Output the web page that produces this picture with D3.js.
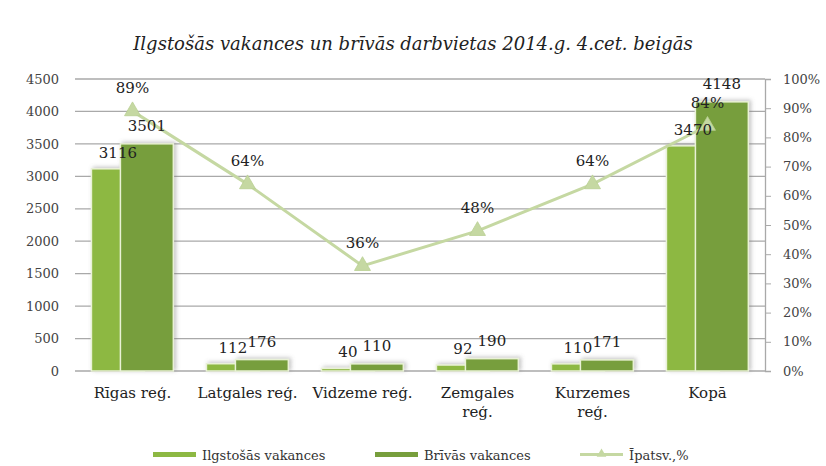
<!DOCTYPE html>
<html>
<head>
<meta charset="utf-8">
<script src="https://cdn.jsdelivr.net/npm/d3@7"></script>
<style>
  html, body { margin: 0; padding: 0; background: #fff; }
  svg { display: block; }
  svg text { font-family: "DejaVu Serif", "Liberation Serif", serif !important; }
</style>
</head>
<body>
<script>
const categories = ["Rīgas reģ.", "Latgales reģ.", "Vidzeme reģ.", "Zemgales\nreģ.", "Kurzemes\nreģ.", "Kopā"];
const ilgstosas = [3116, 112, 40, 92, 110, 3470];
const brivas = [3501, 176, 110, 190, 171, 4148];
const ipatsv = [0.89, 0.64, 0.36, 0.48, 0.64, 0.84];
const leftTicks = [0, 500, 1000, 1500, 2000, 2500, 3000, 3500, 4000, 4500];
const rightTicks = [0, 0.1, 0.2, 0.3, 0.4, 0.5, 0.6, 0.7, 0.8, 0.9, 1.0];
const seriesNames = ["Ilgstošās vakances", "Brīvās vakances", "Īpatsv.,%"];
const title = "Ilgstošās vakances un brīvās darbvietas 2014.g. 4.cet. beigās";

const W = 826, H = 466;
const m = { left: 75, right: 61, top: 79, bottom: 95 };
const c1 = "#8db843", c2 = "#779e3c", cLine = "#c5d8a2";

const svg = d3.select("body").append("svg").attr("width", W).attr("height", H);
const defs = svg.append("defs");
const f = defs.append("filter").attr("id", "sh").attr("x", "-30%").attr("y", "-30%").attr("width", "160%").attr("height", "160%");
f.append("feDropShadow").attr("dx", 2).attr("dy", -1).attr("stdDeviation", 2).attr("flood-color", "#777").attr("flood-opacity", 0.45);

const x = d3.scaleBand().domain(categories).range([m.left, W - m.right]).paddingInner(0).paddingOuter(0);
const y = d3.scaleLinear().domain([0, 4500]).range([H - m.bottom, m.top]);
const y2 = d3.scaleLinear().domain([0, 1]).range([H - m.bottom, m.top]);
const bw = x.bandwidth();
const barW = bw * 0.46;
const off1 = -bw * 0.357, off2 = -bw * 0.105;
const cx = d => x(d) + bw / 2;

// title
svg.append("text").attr("x", W / 2).attr("y", 50).attr("text-anchor", "middle")
  .attr("font-style", "italic").attr("font-size", 18).attr("fill", "#222").text(title);

// gridlines
svg.append("g").selectAll("line").data(leftTicks).join("line")
  .attr("x1", m.left).attr("x2", W - m.right)
  .attr("y1", d => y(d)).attr("y2", d => y(d))
  .attr("stroke", "#a9a9a9").attr("stroke-width", 1.3);

// left axis labels
const gl = svg.append("g").attr("transform", `translate(${m.left - 16},0)`)
  .call(d3.axisLeft(y).tickValues(leftTicks).tickFormat(d3.format("d")).tickSize(0).tickPadding(0));
gl.select(".domain").remove();
gl.selectAll("text").attr("font-size", 13).attr("fill", "#444");

// right axis
const gr = svg.append("g").attr("transform", `translate(${W - m.right},0)`)
  .call(d3.axisRight(y2).tickValues(rightTicks).tickSize(6).tickPadding(12).tickFormat(d3.format(".0%")));
gr.select(".domain").attr("stroke", "#a9a9a9").attr("stroke-width", 1.3);
gr.selectAll(".tick line").attr("stroke", "#a9a9a9");
gr.selectAll("text").attr("font-size", 13).attr("fill", "#444").attr("text-anchor", "start");

// bars
const bars = svg.append("g").attr("filter", "url(#sh)");
bars.selectAll("rect.b1").data(categories).join("rect").attr("class", "b1")
  .attr("x", d => cx(d) + off1).attr("width", barW)
  .attr("y", (d, i) => y(ilgstosas[i])).attr("height", (d, i) => y(0) - y(ilgstosas[i]))
  .attr("fill", c1).attr("stroke", "#e9f1d6").attr("stroke-width", 1.5);
bars.selectAll("rect.b2").data(categories).join("rect").attr("class", "b2")
  .attr("x", d => cx(d) + off2).attr("width", barW)
  .attr("y", (d, i) => y(brivas[i])).attr("height", (d, i) => y(0) - y(brivas[i]))
  .attr("fill", c2).attr("stroke", "#e9f1d6").attr("stroke-width", 1.5);

// line
const line = d3.line().x(d => cx(d.c)).y(d => y2(d.v));
const pts = categories.map((c, i) => ({ c, v: ipatsv[i] }));
svg.append("path").datum(pts).attr("d", line).attr("fill", "none")
  .attr("stroke", cLine).attr("stroke-width", 3);
const tri = d3.symbol().type(d3.symbolTriangle).size(110);
svg.append("g").selectAll("path").data(pts).join("path")
  .attr("d", tri).attr("transform", d => `translate(${cx(d.c)},${y2(d.v)})`)
  .attr("fill", cLine).attr("stroke", "#b9cf92").attr("stroke-width", 0.8);

// data labels
const lab = svg.append("g").attr("font-size", 15).attr("fill", "#222").attr("text-anchor", "middle");
lab.selectAll("text.l1").data(categories).join("text").attr("class", "l1")
  .attr("x", d => cx(d) + off1 + barW / 2).attr("y", (d, i) => y(ilgstosas[i]) - 11)
  .text((d, i) => ilgstosas[i]);
lab.selectAll("text.l2").data(categories).join("text").attr("class", "l2")
  .attr("x", d => cx(d) + off2 + barW / 2).attr("y", (d, i) => y(brivas[i]) - 13)
  .text((d, i) => brivas[i]);
lab.selectAll("text.lp").data(pts).join("text").attr("class", "lp")
  .attr("x", d => cx(d.c)).attr("y", d => y2(d.v) - 18)
  .text(d => d3.format(".0%")(d.v));

// x labels
const xl = svg.append("g").attr("font-size", 15).attr("fill", "#222").attr("text-anchor", "middle");
categories.forEach(c => {
  const t = xl.append("text").attr("x", cx(c)).attr("y", H - m.bottom + 27);
  c.split("\n").forEach((s, k) => {
    t.append("tspan").attr("x", cx(c)).attr("dy", k === 0 ? 0 : 19).text(s);
  });
});

// legend
const lg = svg.append("g").attr("font-size", 13).attr("fill", "#333");
const legendX = [153, 375, 580];
lg.append("rect").attr("x", legendX[0]).attr("y", 452).attr("width", 43).attr("height", 5).attr("fill", c1);
lg.append("rect").attr("x", legendX[1]).attr("y", 452).attr("width", 43).attr("height", 5).attr("fill", c2);
lg.append("line").attr("x1", legendX[2]).attr("x2", legendX[2] + 43).attr("y1", 454.5).attr("y2", 454.5)
  .attr("stroke", cLine).attr("stroke-width", 3);
lg.append("path").attr("d", d3.symbol().type(d3.symbolTriangle).size(40))
  .attr("transform", `translate(${legendX[2] + 21.5},454)`).attr("fill", cLine);
seriesNames.forEach((s, i) => {
  lg.append("text").attr("x", legendX[i] + 49).attr("y", 460).text(s);
});
</script>
</body>
</html>
